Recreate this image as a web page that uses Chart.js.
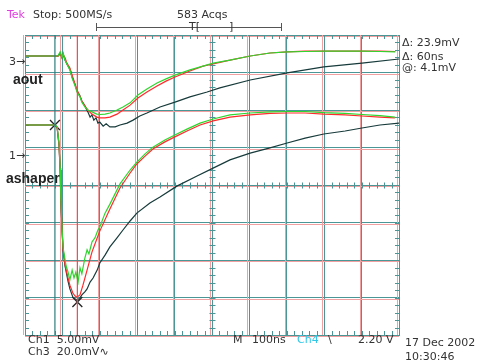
<!DOCTYPE html>
<html>
<head>
<meta charset="utf-8">
<script src="https://cdn.jsdelivr.net/npm/chart.js@4"></script>
<style>
  body { margin: 0; background: #fff; }
  #wrap { position: relative; width: 478px; height: 363px; }
  .t { position: absolute; font: 11px "DejaVu Sans", sans-serif; color: #333; white-space: pre; line-height: 12px; }
  .b { position: absolute; font: bold 14px "Liberation Sans", sans-serif; color: #222; line-height: 14px; }
</style>
</head>
<body>
<div id="wrap">
  <canvas id="scope" width="478" height="363"></canvas>

  <div class="t" style="left:7px;top:9px;color:#e040e0">Tek</div>
  <div class="t" style="left:33px;top:9px">Stop: 500MS/s</div>
  <div class="t" style="left:177px;top:9px">583 Acqs</div>
  <div style="position:absolute;left:96px;top:27px;width:186px;border-top:1px solid #555"></div>
  <div style="position:absolute;left:96px;top:23px;height:8px;border-left:1px solid #555"></div>
  <div style="position:absolute;left:281px;top:23px;height:8px;border-left:1px solid #555"></div>
  <div class="t" style="left:189px;top:21px">T[</div>
  <div class="t" style="left:229px;top:21px">]</div>

  <div class="t" style="left:402px;top:37px">Δ: 23.9mV</div>
  <div class="t" style="left:402px;top:51px">Δ: 60ns</div>
  <div class="t" style="left:402px;top:62px">@: 4.1mV</div>

  <div class="t" style="left:9px;top:56px">3→</div>
  <div class="b" style="left:13px;top:72px">aout</div>
  <div class="t" style="left:9px;top:150px">1→</div>
  <div class="b" style="left:6px;top:171px">ashaper</div>

  <div class="t" style="left:28px;top:334px">Ch1  5.00mV</div>
  <div class="t" style="left:28px;top:346px">Ch3  20.0mV∿</div>
  <div class="t" style="left:233px;top:334px">M</div>
  <div class="t" style="left:252px;top:334px">100ns</div>
  <div class="t" style="left:297px;top:334px;color:#30c8e8">Ch4</div>
  <div class="t" style="left:328px;top:334px">\</div>
  <div class="t" style="left:358px;top:334px">2.20 V</div>
  <div class="t" style="left:405px;top:337px">17 Dec 2002</div>
  <div class="t" style="left:405px;top:351px">10:30:46</div>
</div>
<script>
// time in ns, amplitude in screen divisions (0 = bottom graticule line)
const aoutTime = [0, 80, 88, 94, 99, 102, 107, 112, 120, 126, 134, 139, 147, 152, 160, 168, 179, 192, 200, 214, 227, 246, 262, 281, 302, 326, 353, 377, 401, 441, 476, 503, 548, 602, 655, 701, 749, 799, 856, 901, 949, 990];
const aoutGreen = [7.44, 7.44, 7.44, 7.55, 7.39, 7.52, 7.33, 7.23, 7.07, 6.85, 6.64, 6.48, 6.35, 6.21, 6.08, 6.0, 5.95, 5.89, 5.88, 5.89, 5.92, 6.0, 6.08, 6.19, 6.4, 6.56, 6.72, 6.83, 6.93, 7.07, 7.17, 7.25, 7.33, 7.44, 7.52, 7.55, 7.56, 7.57, 7.57, 7.57, 7.56, 7.55];
const aoutRed = [7.44, 7.44, 7.43, 7.49, 7.41, 7.47, 7.39, 7.25, 7.12, 6.93, 6.69, 6.53, 6.37, 6.24, 6.11, 6.0, 5.89, 5.81, 5.79, 5.79, 5.81, 5.89, 6.0, 6.13, 6.32, 6.48, 6.64, 6.77, 6.88, 7.04, 7.17, 7.23, 7.33, 7.44, 7.52, 7.55, 7.57, 7.57, 7.57, 7.57, 7.57, 7.56];

const aoutBlackTime = [0, 80, 88, 94, 99, 102, 107, 112, 120, 126, 134, 139, 147, 152, 160, 168, 174, 179, 184, 190, 195, 200, 209, 217, 227, 241, 254, 273, 289, 307, 326, 361, 401, 441, 487, 521, 602, 701, 799, 901, 1000];
const aoutBlack = [7.44, 7.44, 7.44, 7.52, 7.39, 7.49, 7.33, 7.23, 7.09, 6.88, 6.67, 6.51, 6.37, 6.24, 6.11, 5.95, 5.81, 5.87, 5.73, 5.79, 5.65, 5.68, 5.57, 5.63, 5.55, 5.55, 5.6, 5.65, 5.73, 5.84, 5.92, 6.08, 6.21, 6.35, 6.48, 6.59, 6.8, 6.99, 7.15, 7.25, 7.36];

const shaperRedTime = [0, 80, 86, 91, 94, 96, 99, 102, 107, 115, 120, 128, 134, 139, 147, 155, 166, 179, 195, 200, 227, 254, 281, 299, 321, 342, 374, 406, 433, 468, 503, 548, 602, 655, 701, 749, 799, 856, 901, 949, 989];
const shaperRed = [5.6, 5.6, 5.52, 5.07, 4.4, 3.6, 2.8, 2.27, 1.87, 1.52, 1.33, 1.12, 1.04, 1.01, 1.07, 1.33, 1.73, 2.21, 2.64, 2.77, 3.36, 3.92, 4.32, 4.56, 4.77, 4.96, 5.15, 5.31, 5.44, 5.6, 5.71, 5.81, 5.87, 5.91, 5.92, 5.92, 5.89, 5.87, 5.84, 5.81, 5.79];

const shaperGreenTime = [0, 80, 86, 91, 94, 96, 99, 102, 110, 115, 120, 126, 131, 136, 142, 147, 152, 160, 166, 171, 179, 187, 195, 200, 214, 227, 254, 281, 299, 321, 342, 374, 406, 433, 468, 503, 548, 602, 655, 701, 749, 799, 856, 901, 949, 989];
const shaperGreen = [5.6, 5.6, 5.55, 5.12, 4.45, 3.65, 2.85, 2.32, 1.84, 1.68, 1.47, 1.73, 1.52, 1.68, 1.41, 1.79, 1.63, 2.05, 2.27, 2.16, 2.48, 2.59, 2.8, 2.88, 3.25, 3.49, 4.03, 4.4, 4.61, 4.83, 5.01, 5.2, 5.36, 5.49, 5.65, 5.76, 5.87, 5.92, 5.95, 5.96, 5.96, 5.93, 5.91, 5.88, 5.85, 5.81];

const shaperBlackTime = [0, 80, 86, 91, 94, 96, 99, 102, 107, 115, 120, 128, 139, 147, 152, 160, 166, 174, 182, 193, 200, 214, 227, 246, 262, 281, 299, 334, 361, 406, 460, 503, 548, 602, 655, 701, 749, 799, 856, 901, 949, 1000];
const shaperBlack = [5.6, 5.6, 5.52, 5.07, 4.4, 3.6, 2.8, 2.27, 1.84, 1.44, 1.23, 1.01, 0.93, 0.99, 1.07, 1.15, 1.23, 1.41, 1.52, 1.73, 1.92, 2.13, 2.35, 2.59, 2.8, 3.04, 3.25, 3.52, 3.68, 3.97, 4.24, 4.45, 4.67, 4.85, 4.99, 5.12, 5.25, 5.36, 5.44, 5.52, 5.6, 5.65];

const cursorTimes = [80, 140];
const cursorLevels = [5.6, 0.88];

const RED = "#ff2a2a", GREEN = "#2fd62f", BLACK = "#173a3a";
const GRID = "#4a9595", GRID_RED = "#f0a0a0";

const pts = (xs, ys) => xs.map((x, i) => ({ x, y: ys[i] }));

function trace(data, color) {
  return { data, borderColor: color, borderWidth: 1.2, showLine: true, pointRadius: 0, tension: 0 };
}

// red "ghost" of each graticule line plus the small sub-division ticks
const graticule = {
  id: "graticule",
  beforeDatasetsDraw(chart) {
    const { ctx, chartArea: a, scales: { x, y } } = chart;
    ctx.save();
    ctx.lineWidth = 1;
    ctx.strokeStyle = GRID_RED;
    ctx.beginPath();
    for (let t = 0; t <= 1000; t += 100) {
      const px = Math.round(x.getPixelForValue(t)) - 1.5;
      ctx.moveTo(px, a.top); ctx.lineTo(px, a.bottom);
    }
    for (let d = 0; d <= 8; d++) {
      const py = Math.round(y.getPixelForValue(d)) + 1.5;
      ctx.moveTo(a.left, py); ctx.lineTo(a.right, py);
    }
    ctx.stroke();

    ctx.strokeStyle = GRID;
    ctx.beginPath();
    const cx = Math.round(x.getPixelForValue(500)) + 0.5;
    const cy = Math.round(y.getPixelForValue(4)) + 0.5;
    for (let t = 20; t < 1000; t += 20) {
      const px = Math.round(x.getPixelForValue(t)) + 0.5;
      ctx.moveTo(px, a.top); ctx.lineTo(px, a.top + 4);
      ctx.moveTo(px, a.bottom); ctx.lineTo(px, a.bottom - 4);
      ctx.moveTo(px, cy - 3); ctx.lineTo(px, cy + 3);
    }
    for (let d = 0.2; d < 8; d += 0.2) {
      const py = Math.round(y.getPixelForValue(d)) + 0.5;
      ctx.moveTo(a.left, py); ctx.lineTo(a.left + 4, py);
      ctx.moveTo(a.right, py); ctx.lineTo(a.right - 4, py);
      ctx.moveTo(cx - 3, py); ctx.lineTo(cx + 3, py);
    }
    ctx.stroke();
    ctx.restore();
  }
};

new Chart(document.getElementById("scope"), {
  type: "scatter",
  data: {
    datasets: [
      trace(pts([cursorTimes[0], cursorTimes[0]], [0, 8]), "#2f7d7d"),
      trace(pts([cursorTimes[1], cursorTimes[1]], [0, 8]), "#e05050"),
      trace(pts(aoutTime, aoutGreen), GREEN),
      trace(pts(aoutTime, aoutRed), RED),
      trace(pts(aoutBlackTime, aoutBlack), BLACK),
      trace(pts(shaperGreenTime, shaperGreen), GREEN),
      trace(pts(shaperRedTime, shaperRed), RED),
      trace(pts(shaperBlackTime, shaperBlack), BLACK),
      {
        data: pts(cursorTimes, cursorLevels),
        pointStyle: "crossRot",
        pointRadius: 7,
        borderColor: "#222",
        borderWidth: 1.3,
        showLine: false
      }
    ]
  },
  options: {
    responsive: false,
    animation: false,
    layout: { padding: { left: 25, top: 35, right: 79, bottom: 28 } },
    plugins: { legend: { display: false }, tooltip: { enabled: false } },
    scales: {
      x: {
        type: "linear",
        min: 0,
        max: 1000,
        ticks: { display: false, stepSize: 100 },
        grid: { color: GRID, drawTicks: false },
        border: { color: GRID }
      },
      y: {
        min: 0,
        max: 8,
        ticks: { display: false, stepSize: 1 },
        grid: { color: GRID, drawTicks: false },
        border: { color: GRID }
      }
    }
  },
  plugins: [graticule]
});
</script>
</body>
</html>
